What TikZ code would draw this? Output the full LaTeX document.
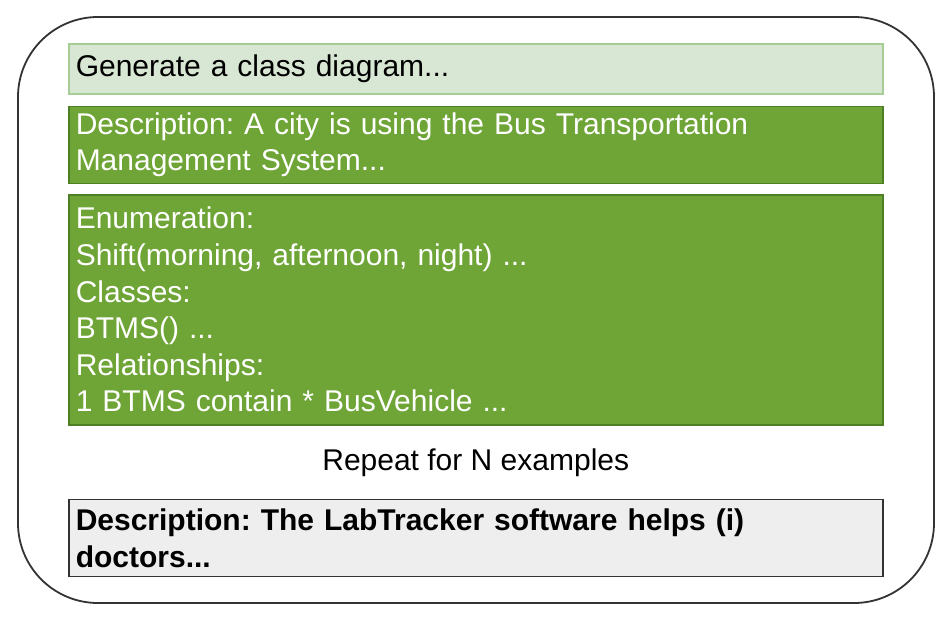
\documentclass[tikz,border=0pt]{standalone}
\usepackage{fontspec}
\setmainfont{Liberation Sans}
\usetikzlibrary{positioning}
\definecolor{palegreen}{HTML}{D7E7D4}
\definecolor{paleline}{HTML}{A7CD96}
\definecolor{leaf}{HTML}{6FA537}
\definecolor{leafline}{HTML}{4E7F24}
\definecolor{paper}{HTML}{EEEEEE}
\definecolor{frameline}{HTML}{333333}

\begin{document}
\begin{tikzpicture}[x=1pt, y=-1pt,
    box/.style={draw, line width=1.5pt, inner xsep=7pt, inner ysep=0pt,
      text width=800pt, align=left, font=\fontsize{30}{36.6}\selectfont\frenchspacing},
    promptbox/.style={box, fill=palegreen, draw=paleline, minimum height=50pt},
    shotbox/.style={box, fill=leaf, draw=leafline, text=white},
    querybox/.style={box, fill=paper, draw=frameline, minimum height=77pt,
      font=\fontsize{30}{36.6}\selectfont\bfseries\frenchspacing}]
  \useasboundingbox (0,0) rectangle (947,621);
  % outer frame
  \draw[frameline, line width=1.8pt, rounded corners=80pt] (18,17) rectangle (934,603);

  \node[promptbox, anchor=north west] (prompt) at (68,43) {Generate a class diagram...};
  \node[shotbox, minimum height=77pt, below=11pt of prompt] (desc)
    {Description: A city is using the Bus Transportation\\Management System...};
  \node[shotbox, minimum height=230pt, below=10pt of desc] (model)
    {Enumeration:\\
     Shift(morning, afternoon, night) ...\\
     Classes:\\
     BTMS() ...\\
     Relationships:\\
     1 BTMS contain * BusVehicle ...};
  \node[inner sep=0pt, font=\fontsize{30}{36.6}\selectfont, below=23pt of model] (repeat)
    {Repeat for N examples};
  \node[querybox, below=22pt of repeat] (query)
    {Description: The LabTracker software helps (i)\\doctors...};
\end{tikzpicture}
\end{document}
